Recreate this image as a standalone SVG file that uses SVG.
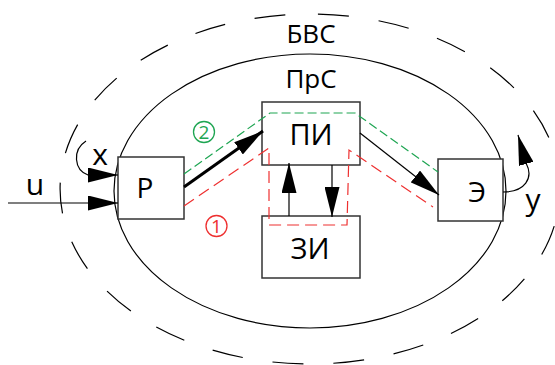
<svg xmlns="http://www.w3.org/2000/svg" width="555" height="365" viewBox="0 0 555 365">
<style>
.box{fill:#fff;stroke:#333;stroke-width:1.5}
.t{font-family:"Open Sans","Noto Sans","DejaVu Sans",sans-serif;fill:#000;text-anchor:middle}
.ln{fill:none;stroke:#000;stroke-width:1.2}
.g{fill:none;stroke:#1ea552;stroke-width:1.2;stroke-dasharray:9 4}
.r{fill:none;stroke:#ee3030;stroke-width:1.2;stroke-dasharray:12 6}
</style>
<defs>
<marker id="ah" markerUnits="userSpaceOnUse" markerWidth="30" markerHeight="15" refX="30" refY="7.5" orient="auto">
<path d="M0,0 L30,7.5 L0,15 z" fill="#000"/>
</marker>
</defs>
<g id="bvs">
<path d="M310,14 A250,175 0 0 1 310,364 A250,175 0 0 1 310,14" fill="none" stroke="#000" stroke-width="1.2" stroke-dasharray="31 30" stroke-dashoffset="53"/>
<text class="t" x="311" y="43" font-size="26">БВС</text>
</g>
<g id="prs">
<ellipse cx="310" cy="191" rx="196" ry="137" fill="none" stroke="#000" stroke-width="1.2"/>
<text class="t" x="311" y="88" font-size="26">ПрС</text>
</g>
<g id="P">
<rect class="box" x="118" y="157" width="66" height="62"/>
<text class="t" x="145" y="198" font-size="28">Р</text>
</g>
<g id="PI">
<rect class="box" x="262" y="102" width="98" height="63"/>
<text class="t" x="311" y="145" font-size="29">ПИ</text>
</g>
<g id="ZI">
<rect class="box" x="262" y="216" width="98" height="62"/>
<text class="t" x="310" y="259" font-size="29">ЗИ</text>
</g>
<g id="E">
<rect class="box" x="438" y="159" width="65" height="62"/>
<text class="t" x="477" y="202" font-size="28">Э</text>
</g>
<g id="connectors">
<path class="g" d="M184,174 L270,113 L355,113 L438,172"/>
<path class="r" d="M184,206 L269,148 L269,225 L347,225 L349,150 L433,207"/>
<line x1="8" y1="203" x2="118" y2="203" class="ln" marker-end="url(#ah)"/>
<path class="ln" d="M86,141 C72,150 74,170 88,175 L118,175" marker-end="url(#ah)"/>
<line x1="184" y1="187" x2="263" y2="131" stroke="#000" stroke-width="3" marker-end="url(#ah)"/>
<line x1="360" y1="133" x2="439" y2="195" class="ln" marker-end="url(#ah)"/>
<line x1="289" y1="216" x2="289" y2="163" class="ln" marker-end="url(#ah)"/>
<line x1="332" y1="165" x2="332" y2="217" class="ln" marker-end="url(#ah)"/>
<path class="ln" d="M503,192 C525,192 534,178 526,163 L518,135" marker-end="url(#ah)"/>
</g>
<g id="labels">
<text class="t" x="35" y="195" font-size="30">u</text>
<text class="t" x="100" y="165" font-size="30">x</text>
<text class="t" x="533" y="210" font-size="30">y</text>
<circle cx="204" cy="132" r="10.5" fill="none" stroke="#1ea552" stroke-width="1.3"/>
<text class="t" x="204" y="139" font-size="19" style="fill:#1ea552">2</text>
<circle cx="216.5" cy="226" r="10.5" fill="none" stroke="#ee3030" stroke-width="1.3"/>
<text class="t" x="216.5" y="233" font-size="19" style="fill:#ee3030">1</text>
</g>
</svg>
